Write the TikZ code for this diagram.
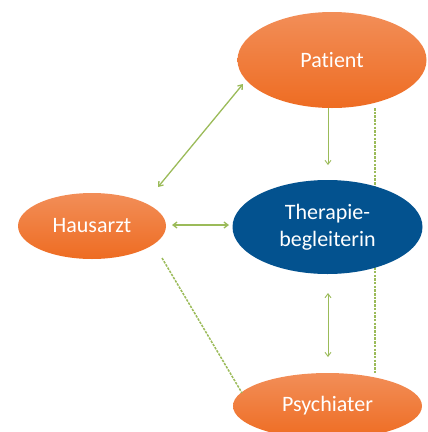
\documentclass[tikz,border=0pt]{standalone}
\usepackage{fontspec}
\setmainfont{Carlito}[Ligatures={NoCommon,NoRare}, Contextuals=NoAlternate]
\usetikzlibrary{arrows.meta,shapes.geometric}
\definecolor{orTop}{HTML}{F28E58}
\definecolor{orBot}{HTML}{EE6C22}
\definecolor{blu}{HTML}{03528F}
\definecolor{grn}{HTML}{9BBB59}
\tikzset{
  orbox/.style={ellipse, top color=orTop, bottom color=orBot, draw=none, text=white, font=\fontsize{22}{27}\selectfont, align=center, inner sep=0pt},
  blbox/.style={ellipse, fill=blu, draw=none, text=white, font=\fontsize{22}{27}\selectfont, align=center, inner sep=0pt},
  conn/.style={draw=grn, line width=1.3pt},
  vconn/.style={draw=grn, line width=0.9pt},
  dashconn/.style={draw=grn, line width=1.5pt, dash pattern=on 2.5pt off 1.2pt},
  tip/.style={-{Straight Barb[length=4pt,width=6pt]}},
  tips/.style={{Straight Barb[length=4pt,width=6pt]}-{Straight Barb[length=4pt,width=6pt]}}
}
\begin{document}
\begin{tikzpicture}[x=1pt,y=-1pt]
\useasboundingbox (0,0) rectangle (428,432);
\begin{scope}
\clip (0,0) rectangle (428,432);
% dashed vertical behind
\coordinate (dtop) at (375,108);
\coordinate (dbot) at (375,373);
\draw[dashconn] (dtop) -- (dbot);
\node[orbox, minimum width=189pt, minimum height=96pt] (pat) at (332,60) {Patient};
\node[orbox, minimum width=148pt, minimum height=66pt] (haus) at (92,226) {Hausarzt};
\node[blbox, minimum width=190pt, minimum height=94pt] (ther) at (327.5,227) {Therapie-\\begleiterin};
\node[orbox, minimum width=189pt, minimum height=66pt] (psy) at (327.5,406) {Psychiater};
% connectors
\coordinate (a1) at (328,108);
\coordinate (a2) at (328,165);
\draw[vconn,tip] (a1) -- (a2);
\coordinate (b1) at (328,293);
\coordinate (b2) at (328,357);
\draw[vconn,tips] (b1) -- (b2);
\coordinate (c1) at (158,187);
\coordinate (c2) at (243,84);
\draw[conn,tips] (c1) -- (c2);
\coordinate (d1) at (172,225);
\coordinate (d2) at (229,225);
\draw[conn,tips] (d1) -- (d2);
\coordinate (e1) at (162,258);
\coordinate (e2) at (242,393);
\draw[dashconn] (e1) -- (e2);
\end{scope}
\end{tikzpicture}
\end{document}
